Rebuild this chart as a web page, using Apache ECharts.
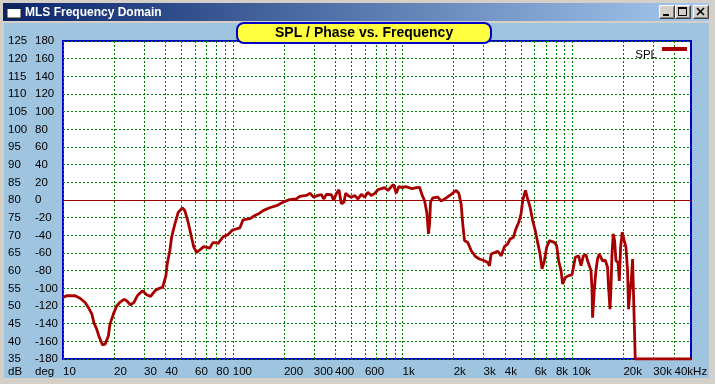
<!DOCTYPE html>
<html><head><meta charset="utf-8">
<script src="https://cdn.jsdelivr.net/npm/echarts@6/dist/echarts.min.js"></script>
<style>html,body{margin:0;padding:0;background:#D4D0C8}#c{width:715px;height:384px}</style>
</head><body><div id="c"></div>
<script>
// Frequency (Hz) of each traced point
var freqHz = [
 10,10.5,11.8,12.6,13.5,14.1,14.8,15.2,15.8,16.4,
 17.1,17.7,18.5,18.9,19.8,20.7,21.6,22.9,23.7,25.0,
 26.2,27.4,29.4,31.1,32.8,34.8,36.9,38.6,40.4,41.1,
 42.6,43.6,45.6,47.7,50.6,52.2,54.6,57.2,59.0,61.2,
 64.0,67.5,73.2,76.6,81.9,87.7,93.8,99.6,110,115,
 126,135,143,151,165,181,198,216,237,248,
 271,286,299,318,333,343,356,381,393,407,
 422,436,452,462,477,499,522,546,572,598,
 625,654,684,716,750,784,820,859,886,918,
 951,996,1042,1089,1140,1205,1259,1306,1346,1389,
 1422,1442,1462,1508,1614,1690,1808,1934,2070,2143,
 2213,2263,2317,2421,2535,2686,2838,3036,3175,3250,
 3325,3639,3810,3981,4164,4300,4498,4624,4835,4989,
 5102,5292,5458,5636,5839,6053,6247,6452,6634,6843,
 7063,7328,7839,8086,8302,8583,8770,9099,9511,9954,
 10140,10413,10890,11250,11610,12040,12300,12590,12880,13060,
 13160,13460,13770,14080,14410,14750,15080,15630,16130,16350,
 16670,16890,17120,17420,17740,18080,18580,18910,19240,19680,
 20230,20700,21150,21440,21850,22230,22640,23240,23470,50000
];
// SPL (dB) at each point
var splDb = [
 52.4,52.9,52.9,52.2,51.0,49.6,47.7,45.3,43.4,41.0,
 39.0,39.2,41.5,44.8,47.7,50.0,51.0,51.9,51.5,50.3,
 51.0,52.9,54.3,53.2,52.7,54.3,55.0,55.3,58.6,61.9,
 65.7,69.4,73.2,76.5,77.8,77.0,73.7,69.4,66.6,65.2,
 65.9,66.8,66.4,68.0,67.7,69.6,70.2,71.5,72.1,74.4,
 74.7,75.6,76.2,77.0,77.8,78.4,79.4,80.1,80.3,81.0,
 81.3,81.9,80.8,81.3,81.5,80.3,81.6,81.5,79.9,81.8,
 82.9,78.9,79.4,81.9,81.3,80.8,81.3,80.3,81.6,80.8,
 82.2,81.3,81.8,82.9,83.2,83.5,82.7,83.8,84.4,81.9,
 83.8,83.5,83.8,83.5,83.2,83.5,83.6,81.3,79.9,76.5,
 70.4,73.2,79.4,80.6,80.8,79.7,80.6,81.6,82.7,81.9,
 78.9,73.2,68.5,68.0,65.7,64.0,63.3,62.8,62.3,61.4,
 64.7,65.5,64.2,66.8,67.6,69.0,69.4,71.5,73.7,76.1,
 79.9,82.7,80.3,78.0,74.2,71.3,68.0,64.7,60.5,62.8,
 66.6,68.5,68.0,67.1,62.8,60.0,56.2,58.1,58.6,58.8,
 59.2,63.8,64.2,61.4,64.2,64.5,62.8,63.0,60.0,54.8,
 46.7,54.3,60.0,63.3,64.7,65.2,62.8,63.0,60.9,55.2,
 49.1,55.2,64.7,70.4,68.5,62.8,62.3,57.1,66.6,70.9,
 68.5,66.6,60.0,49.1,54.3,57.1,63.3,62.8,35,35
];
// vertical grid frequencies
var gridFreqs = [10,20,30,40,50,60,70,80,90,100,200,300,400,500,600,700,800,900,
 1000,2000,3000,4000,5000,6000,7000,8000,9000,10000,20000,30000,40000];
// x tick labels
var xLabelFreqs = [10,20,30,40,60,80,100,200,300,400,600,1000,2000,3000,4000,6000,8000,10000,20000,30000,40000];
var xLabelText = ['10','20','30','40','60','80','100','200','300','400','600','1k','2k','3k','4k','6k','8k','10k','20k','30k','40kHz'];
var seriesName = 'SPL';
var refLineDb = 80;

var FONT = '"Liberation Sans", Arial, sans-serif';
var chart = echarts.init(document.getElementById('c'), null, {renderer:'canvas'});
var data = freqHz.map(function(f,i){return [f, splDb[i]];});

function button(x, kind){
  var els = [
    {type:'rect', shape:{x:x,y:5,width:16,height:14}, style:{fill:'#D4D0C8'}},
    {type:'polyline', shape:{points:[[x+0.5,18.5],[x+0.5,5.5],[x+15.5,5.5]]}, style:{stroke:'#FFFFFF',fill:null,lineWidth:1}},
    {type:'polyline', shape:{points:[[x+0.5,18.5],[x+15.5,18.5],[x+15.5,5.5]]}, style:{stroke:'#404040',fill:null,lineWidth:1}},
    {type:'polyline', shape:{points:[[x+1.5,17.5],[x+14.5,17.5],[x+14.5,6.5]]}, style:{stroke:'#808080',fill:null,lineWidth:1}}
  ];
  if (kind==='min') els.push({type:'rect', shape:{x:x+4,y:14,width:6,height:2}, style:{fill:'#000'}});
  if (kind==='max') {
    els.push({type:'rect', shape:{x:x+3.5,y:7.5,width:8,height:8}, style:{fill:null,stroke:'#000',lineWidth:1}});
    els.push({type:'rect', shape:{x:x+3,y:7,width:9,height:2}, style:{fill:'#000'}});
  }
  if (kind==='close') {
    els.push({type:'line', shape:{x1:x+4,y1:8,x2:x+11,y2:15}, style:{stroke:'#000',lineWidth:1.6}});
    els.push({type:'line', shape:{x1:x+11,y1:8,x2:x+4,y2:15}, style:{stroke:'#000',lineWidth:1.6}});
  }
  return els;
}

var graphics = [
  {type:'rect', z:-10, silent:true, shape:{x:3,y:3,width:706,height:18},
   style:{fill:new echarts.graphic.LinearGradient(0,0,1,0,[{offset:0,color:'#0A246A'},{offset:1,color:'#A6CAF0'}])}},
  {type:'rect', z:-10, silent:true, shape:{x:4,y:23,width:705,height:355}, style:{fill:'#9FC4DF'}},
  {type:'rect', silent:true, shape:{x:7,y:6,width:14,height:12}, style:{fill:'#FFFFFF',stroke:'#202020',lineWidth:1}},
  {type:'rect', silent:true, shape:{x:7,y:6,width:14,height:3}, style:{fill:'#0A246A'}},
  {type:'text', silent:true, style:{x:25,y:12.5,text:'MLS Frequency Domain',fill:'#FFFFFF',font:'bold 12px '+FONT,verticalAlign:'middle'}},
  {type:'text', silent:true, style:{x:8,y:372,text:'dB',fill:'#000',font:'11.5px '+FONT,verticalAlign:'middle'}},
  {type:'text', silent:true, style:{x:35,y:372,text:'deg',fill:'#000',font:'11.5px '+FONT,verticalAlign:'middle'}}
].concat(button(659,'min'), button(675,'max'), button(693,'close'));

var gridLine = {color:'#008000', type:[2,2], width:1};

var option = {
  animation:false,
  backgroundColor:'#D4D0C8',
  title:{
    text:'SPL / Phase vs. Frequency', left:237, top:23,
    backgroundColor:'#FFFF40', borderColor:'#0000C8', borderWidth:2, borderRadius:7,
    padding:[3,38,2,38],
    textStyle:{fontSize:14, fontWeight:'bold', color:'#000', fontFamily:FONT, lineHeight:15}
  },
  legend:{
    right:28, top:47, padding:0, itemWidth:25, itemHeight:16, align:'right', itemGap:0,
    icon:'path://M0,0L25,0L25,4L0,4Z M0,16L0.01,16L0.01,15.99Z',
    data:[seriesName],
    textStyle:{fontSize:11.5, color:'#000', fontFamily:FONT}
  },
  grid:{left:63, right:24, top:41, bottom:25, show:true, backgroundColor:'#FFFFFF', borderColor:'#0000C8', borderWidth:2, z:0},
  xAxis:{
    type:'log', logBase:10, min:10, max:50000,
    axisLine:{show:false},
    axisTick:{show:false, customValues:gridFreqs},
    splitLine:{show:true, lineStyle:gridLine},
    minorSplitLine:{show:false},
    axisLabel:{
      customValues:xLabelFreqs,
      align:'left', margin:7, fontSize:11.5, color:'#000', fontFamily:FONT,
      formatter:function(v){ var i = xLabelFreqs.indexOf(Math.round(v)); return i>=0 ? xLabelText[i] : ''; }
    }
  },
  yAxis:[
    {type:'value', min:35, max:125, interval:5, position:'left',
     axisLine:{show:false}, axisTick:{show:false},
     splitLine:{show:true, lineStyle:gridLine},
     axisLabel:{align:'left', margin:55, fontSize:11.5, color:'#000', fontFamily:FONT, padding:[0,0,5,0]}},
    {type:'value', min:-180, max:180, interval:20, position:'left',
     axisLine:{show:false}, axisTick:{show:false}, splitLine:{show:false},
     axisLabel:{align:'left', margin:28, fontSize:11.5, color:'#000', fontFamily:FONT, padding:[0,0,5,0]}}
  ],
  series:[{
    name:seriesName, type:'line', data:data, xAxisIndex:0, yAxisIndex:0,
    showSymbol:false, symbol:'none', clip:true,
    lineStyle:{color:'#A80000', width:2.8},
    itemStyle:{color:'#A80000'},
    markLine:{silent:true, symbol:'none', label:{show:false},
      lineStyle:{color:'#A00000', width:1, type:'solid'},
      data:[{yAxis:refLineDb}]}
  }],
  graphic:graphics
};
chart.setOption(option);
</script></body></html>
